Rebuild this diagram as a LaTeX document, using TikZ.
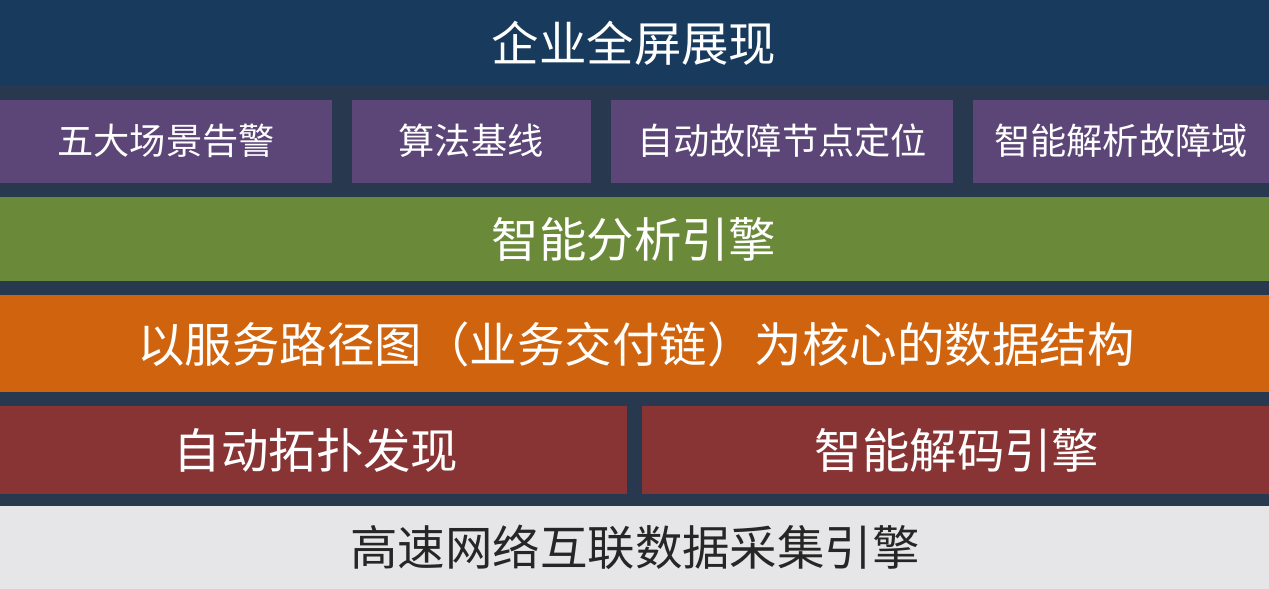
\documentclass[tikz,border=0pt]{standalone}
\usepackage{fontspec}
\setmainfont{Noto Sans CJK SC}
\begin{document}
\begin{tikzpicture}[x=0.01cm,y=-0.01cm,
  bar/.style={inner sep=0pt,outer sep=0pt,text=white},
  big/.style={font=\fontsize{13.5pt}{14pt}\selectfont},
  small/.style={font=\fontsize{10.3pt}{11pt}\selectfont}]
\fill[color={rgb,255:red,40;green,56;blue,78}] (0,0) rectangle (1269,589);
\definecolor{topb}{RGB}{24,58,92}
\definecolor{purp}{RGB}{92,70,120}
\definecolor{grn}{RGB}{106,138,58}
\definecolor{org}{RGB}{208,100,14}
\definecolor{redb}{RGB}{136,52,52}
\definecolor{gry}{RGB}{230,230,232}
\fill[topb] (0,0) rectangle (1269,85);
\node[bar,big] (t) at (634,43) {企业全屏展现};
\fill[purp] (0,100) rectangle (332,183);
\fill[purp] (352,100) rectangle (591,183);
\fill[purp] (611,100) rectangle (953,183);
\fill[purp] (973,100) rectangle (1269,183);
\node[bar,small] (p1) at (166,141) {五大场景告警};
\node[bar,small] (p2) at (471,141) {算法基线};
\node[bar,small] (p3) at (782,141) {自动故障节点定位};
\node[bar,small] (p4) at (1121,141) {智能解析故障域};
\fill[grn] (0,197) rectangle (1269,281);
\node[bar,big] (g) at (634,239) {智能分析引擎};
\fill[org] (0,295) rectangle (1269,392);
\node[bar,big] (o) at (636,344) {以服务路径图（业务交付链）为核心的数据结构};
\fill[redb] (0,406) rectangle (627,494);
\fill[redb] (642,406) rectangle (1269,494);
\node[bar,big] (r1) at (316,450) {自动拓扑发现};
\node[bar,big] (r2) at (957,450) {智能解码引擎};
\fill[gry] (0,506) rectangle (1269,589);
\node[bar,big,text=black!85] (b) at (635,547) {高速网络互联数据采集引擎};
\end{tikzpicture}
\end{document}
